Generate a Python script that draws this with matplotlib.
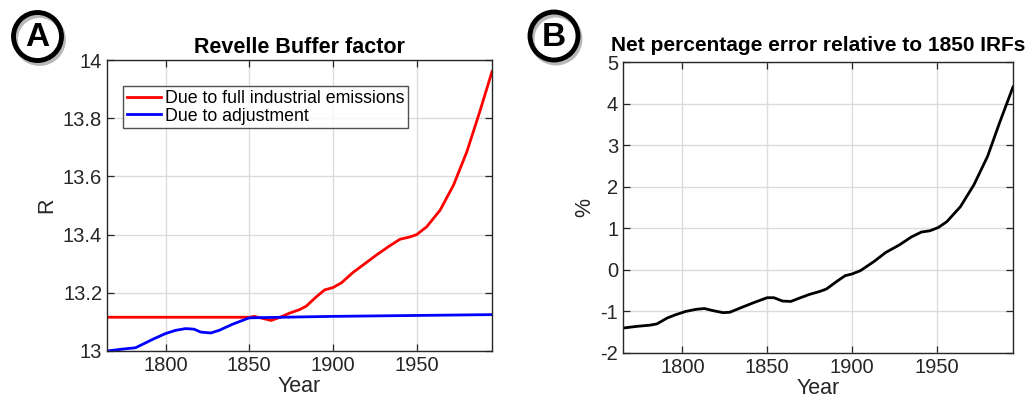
import matplotlib
matplotlib.use("Agg")
import matplotlib.pyplot as plt
from matplotlib.patches import Ellipse

plt.rcParams['font.family'] = ['Liberation Sans', 'DejaVu Sans']
plt.rcParams['axes.unicode_minus'] = False

# panel A: Revelle buffer factor
red_years = [1765, 1850, 1853, 1858, 1863, 1868, 1874, 1880, 1884, 1890, 1895, 1900,
             1905, 1912, 1919, 1926, 1933, 1940, 1946, 1950, 1956, 1964, 1972, 1980,
             1988, 1995]
red_R = [13.116, 13.116, 13.119, 13.112, 13.105, 13.115, 13.130, 13.142, 13.154, 13.186,
         13.210, 13.218, 13.234, 13.270, 13.300, 13.330, 13.358, 13.384, 13.392, 13.400,
         13.427, 13.484, 13.570, 13.685, 13.828, 13.960]

blue_years = [1765, 1775, 1782, 1787, 1793, 1800, 1806, 1812, 1817, 1821, 1827, 1832,
              1840, 1850, 1900, 1995]
blue_R = [13.000, 13.007, 13.011, 13.025, 13.042, 13.060, 13.071, 13.077, 13.075, 13.065,
          13.062, 13.071, 13.092, 13.114, 13.119, 13.125]

# panel B: net percentage error
err_years = [1765, 1773, 1781, 1785, 1791, 1796, 1802, 1808, 1813, 1818, 1824, 1828,
             1834, 1842, 1850, 1854, 1859, 1864, 1869, 1875, 1881, 1885, 1891, 1896,
             1900, 1905, 1913, 1920, 1928, 1935, 1941, 1946, 1951, 1956, 1964, 1972,
             1980, 1987, 1995]
err_pct = [-1.40, -1.36, -1.33, -1.30, -1.16, -1.08, -1.00, -0.95, -0.93, -0.98, -1.03, -1.02,
           -0.92, -0.79, -0.67, -0.67, -0.75, -0.76, -0.68, -0.59, -0.52, -0.46, -0.28, -0.14,
           -0.10, -0.02, 0.20, 0.42, 0.60, 0.79, 0.91, 0.94, 1.02, 1.16, 1.52, 2.05,
           2.73, 3.53, 4.40]

x_ticks = [1800, 1850, 1900, 1950]
yA_ticks = [13, 13.2, 13.4, 13.6, 13.8, 14]
yA_labels = ['13', '13.2', '13.4', '13.6', '13.8', '14']
yB_ticks = [-2, -1, 0, 1, 2, 3, 4, 5]

W, H = 1036, 408
fig = plt.figure(figsize=(W / 100, H / 100), dpi=100)
axA = fig.add_axes([107 / W, 1 - 351 / H, 385 / W, 291 / H])
axB = fig.add_axes([623 / W, 1 - 353 / H, 390 / W, 291 / H])


def style(ax):
    ax.grid(True, color='#dcdcdc', linewidth=1.0)
    ax.set_axisbelow(True)
    ax.tick_params(direction='in', top=True, right=True, labelsize=14.5,
                   length=5, width=0.9, colors='#262626')
    for s in ax.spines.values():
        s.set_linewidth(1.0)
        s.set_color('#262626')
    ax.set_xlim(1765, 1995)
    ax.set_xticks(x_ticks)
    ax.set_xlabel('Year', fontsize=15.5, color='#262626', labelpad=1)


axA.plot(red_years, red_R, color='red', lw=2, label='Due to full industrial emissions')
axA.plot(blue_years, blue_R, color='blue', lw=2, label='Due to adjustment')
style(axA)
axA.set_ylim(13, 14)
axA.set_yticks(yA_ticks)
axA.set_yticklabels(yA_labels)
axA.set_ylabel('R', fontsize=15.5, color='#262626')
axA.set_title('Revelle Buffer factor', fontsize=15.5, fontweight='bold', pad=5)
leg = axA.legend(loc='upper left', bbox_to_anchor=(0.042, 0.91), fontsize=12.8,
                 frameon=True, fancybox=False, handlelength=1.9, borderpad=0.2,
                 labelspacing=0.05, handletextpad=0.25, borderaxespad=0)
leg.get_frame().set_edgecolor('#262626')
leg.get_frame().set_linewidth(1.0)

axB.plot(err_years, err_pct, color='black', lw=2)
style(axB)
axB.set_ylim(-2, 5)
axB.set_yticks(yB_ticks)
axB.set_ylabel('%', fontsize=15.5, color='#262626')
axB.set_title('Net percentage error relative to 1850 IRFs', fontsize=15,
              fontweight='bold', pad=8)

# circled panel letters
for cx, cy, letter in [(37.5, 36.5, 'A'), (554, 36, 'B')]:
    shadow = Ellipse(((cx + 2) / W, 1 - (cy + 3) / H), 48 / W, 48 / H,
                     transform=fig.transFigure, fill=False, lw=3.5, ec='#b8b8b8')
    ring = Ellipse((cx / W, 1 - cy / H), 48 / W, 48 / H,
                   transform=fig.transFigure, fill=False, lw=3.5, ec='black')
    fig.add_artist(shadow)
    fig.add_artist(ring)
    fig.text(cx / W, 1 - (cy + 1) / H, letter, fontsize=24, fontweight='bold',
             ha='center', va='center')

fig.savefig('out.png', dpi=100)
